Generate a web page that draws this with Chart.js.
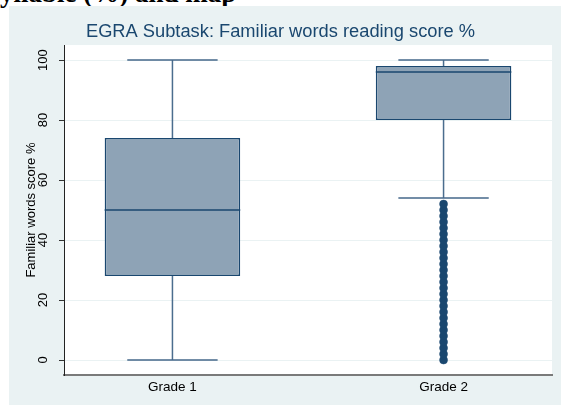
<!DOCTYPE html>
<html>
<head>
<meta charset="utf-8">
<script src="https://cdn.jsdelivr.net/npm/chart.js@4.4.0/dist/chart.umd.min.js"></script>
<style>
  body { margin: 0; width: 561px; height: 405px; overflow: hidden; background: #fff; }
  #heading { position: absolute; left: 0; top: -20px; font: bold 27px/27px "Liberation Serif", serif; white-space: nowrap; color: #000; }
  #panel { position: absolute; left: 9px; top: 6px; width: 552px; height: 399px; background: #eaf2f3; }
</style>
</head>
<body>
<div id="heading">yllable (%) and map</div>
<div id="panel"><canvas id="boxChart" width="552" height="399"></canvas></div>
<script>
// box plot stats
const grades = ["Grade 1", "Grade 2"];
const lowerWhisker = [0, 54];
const q1 = [28, 80];
const median = [50, 96];
const q3 = [74, 98];
const upperWhisker = [100, 100];
const outliersGrade2 = [0, 2, 4, 6, 8, 10, 12, 14, 16, 18, 20, 22, 24, 26, 28, 30, 32, 34, 36, 38, 40, 42, 44, 46, 48, 50, 52];
const yTicks = [0, 20, 40, 60, 80, 100];

const navy = "#1a476f";
const boxHalf = 0.25;
const capHalf = 1 / 6;

Chart.defaults.font.family = '"Liberation Sans", Arial, sans-serif';

function segments(list) {
    const pts = [];
    list.forEach(([x0, y0, x1, y1]) => {
        pts.push({ x: x0, y: y0 }, { x: x1, y: y1 }, { x: x1, y: null });
    });
    return pts;
}

const whiskers = [], caps = [], medians = [];
grades.forEach((g, i) => {
    const x = i + 1;
    whiskers.push([x, lowerWhisker[i], x, q1[i]], [x, q3[i], x, upperWhisker[i]]);
    caps.push([x - capHalf, lowerWhisker[i], x + capHalf, lowerWhisker[i]]);
    caps.push([x - capHalf, upperWhisker[i], x + capHalf, upperWhisker[i]]);
    medians.push([x - boxHalf, median[i], x + boxHalf, median[i]]);
});

const plotBg = {
    id: "plotBg",
    beforeDraw(chart) {
        const { ctx, chartArea: a } = chart;
        ctx.save();
        ctx.fillStyle = "#fff";
        ctx.fillRect(a.left, a.top, a.right - a.left, a.bottom - a.top);
        ctx.restore();
    },
};

const lineStyle = { type: "scatter", showLine: true, pointRadius: 0, spanGaps: false, borderWidth: 1.5 };

new Chart(document.getElementById("boxChart"), {
    type: "bar",
    data: {
        datasets: [
            {
                type: "bar",
                data: grades.map((g, i) => ({ x: i + 1, y: [q1[i], q3[i]] })),
                backgroundColor: "#8ea3b6",
                borderColor: navy,
                borderWidth: 1.5,
                borderSkipped: false,
                barPercentage: boxHalf * 2,
                categoryPercentage: 1,
                grouped: false,
                order: 4,
            },
            { ...lineStyle, data: segments(whiskers), borderColor: "#4b6d8e", order: 3 },
            { ...lineStyle, data: segments(caps), borderColor: "#45688b", order: 2 },
            { ...lineStyle, data: segments(medians), borderColor: navy, order: 1 },
            {
                type: "scatter",
                data: outliersGrade2.map((v) => ({ x: 2, y: v })),
                pointRadius: 4,
                pointBackgroundColor: navy,
                pointBorderColor: navy,
                pointBorderWidth: 0.5,
                order: 0,
            },
        ],
    },
    options: {
        responsive: false,
        animation: false,
        layout: { padding: { left: 0, right: 9, top: 0, bottom: 0 } },
        plugins: {
            legend: { display: false },
            tooltip: { enabled: false },
            title: {
                display: true,
                text: "EGRA Subtask: Familiar words reading score %",
                color: navy,
                font: { size: 18.3, weight: "normal" },
                padding: { top: 15, bottom: 2.1 },
            },
        },
        scales: {
            x: {
                type: "linear",
                offset: false,
                min: 0.6,
                max: 2.4,
                afterBuildTicks: (s) => { s.ticks = grades.map((g, i) => ({ value: i + 1 })); },
                afterFit: (s) => { s.height = 30; },
                ticks: {
                    callback: (v) => grades[v - 1],
                    color: "#000",
                    font: { size: 13.5 },
                    padding: 4,
                    maxRotation: 0,
                },
                grid: { display: false, drawTicks: false },
                border: { display: true, color: "#7a7a7a", width: 2 },
            },
            y: {
                min: -5,
                max: 105,
                afterBuildTicks: (s) => { s.ticks = yTicks.map((v) => ({ value: v })); },
                afterFit: (s) => { s.width = 55; },
                ticks: {
                    minRotation: 90,
                    maxRotation: 90,
                    crossAlign: "center",
                    padding: 5,
                    color: "#000",
                    font: { size: 13 },
                },
                grid: { color: "#eaf2f3", lineWidth: 1, tickColor: "#333", tickLength: 5 },
                border: { display: true, color: "#222", width: 1 },
                title: {
                    display: true,
                    text: "Familiar words score %",
                    color: "#000",
                    font: { size: 13 },
                    padding: { top: 15, bottom: 0 },
                },
            },
        },
    },
    plugins: [plotBg],
});
</script>
</body>
</html>
